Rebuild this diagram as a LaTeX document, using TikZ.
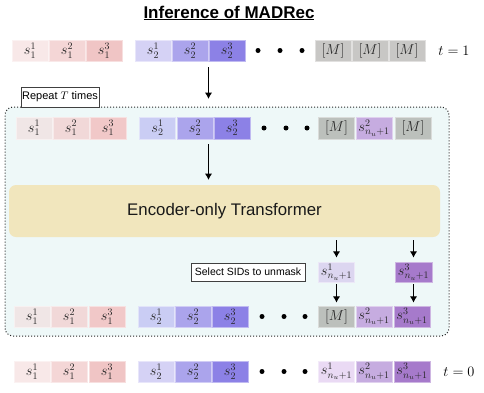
\documentclass[tikz,border=0pt]{standalone}
\usepackage{fontspec}
\setsansfont{Liberation Sans}
\usetikzlibrary{arrows.meta,calc}
\definecolor{ra}{HTML}{F8E8E8}
\definecolor{rb}{HTML}{F4D6D6}
\definecolor{rc}{HTML}{F0C5C5}
\definecolor{pa}{HTML}{D5D2F5}
\definecolor{pb}{HTML}{ABA4EC}
\definecolor{pc}{HTML}{8C81E6}
\definecolor{mg}{HTML}{C8C7C5}
\definecolor{mgb}{HTML}{BCC0BC}
\definecolor{ua}{HTML}{DCD6F0}
\definecolor{ub}{HTML}{C6ACE0}
\definecolor{uc}{HTML}{A67ACB}
\definecolor{va}{HTML}{EADAF4}
\definecolor{qa}{HTML}{F0E6E6}
\definecolor{qb}{HTML}{F1D8D8}
\definecolor{qc}{HTML}{F1C8C8}
\definecolor{qd}{HTML}{CACDF4}
\definecolor{bgc}{HTML}{EEF8F8}
\definecolor{beige}{HTML}{F1E6BD}
\begin{document}
\begin{tikzpicture}[x=1pt,y=-1pt,
  cell/.style={fill=#1,draw=#1!55!white,line width=0.5pt,minimum width=36pt,minimum height=21pt,inner sep=0pt,text=black!85,font=\fontsize{14.5}{16}\selectfont},
  dotn/.style={circle,fill=black,inner sep=0pt,minimum size=5pt},
  arr/.style={-{Latex[length=6.5pt,width=7.5pt]},line width=1.3pt},
  lab/.style={draw=black!75,fill=white,line width=0.6pt,inner sep=0pt,font=\sffamily\fontsize{10.5}{12}\selectfont},
  tlab/.style={font=\fontsize{13.5}{15}\selectfont}]
\useasboundingbox (0,0) rectangle (484,392);
% title
\node[font=\sffamily\bfseries\fontsize{17}{19}\selectfont] (title) at (229,13) {\underline{Inference of MADRec}};
% row 1 (t=1)
\node[cell=ra] (r1c1) at (30,50.5) {$s_1^1$};
\node[cell=rb] (r1c2) at (67,50.5) {$s_1^2$};
\node[cell=rc] (r1c3) at (104,50.5) {$s_1^3$};
\node[cell=pa] (r1c4) at (153,50.5) {$s_2^1$};
\node[cell=pb] (r1c5) at (190,50.5) {$s_2^2$};
\node[cell=pc] (r1c6) at (227,50.5) {$s_2^3$};
\node[dotn] (r1d1) at (258,50.5) {};
\node[dotn] (r1d2) at (280,50.5) {};
\node[dotn] (r1d3) at (302,50.5) {};
\node[cell=mg] (r1c7) at (333,50.5) {$[M]$};
\node[cell=mg] (r1c8) at (370,50.5) {$[M]$};
\node[cell=mg] (r1c9) at (407,50.5) {$[M]$};
\node[tlab] (t1) at (454,50.5) {$t=1$};
% container
\node[draw=black!85,dash pattern=on 1pt off 2pt,line width=1pt,rounded corners=8pt,fill=bgc,minimum width=444pt,minimum height=229pt,inner sep=0pt] (cont) at (227,221.5) {};
\node[lab,minimum width=78pt,minimum height=20pt,font=\sffamily\fontsize{11}{12}\selectfont] (rep) at (60,97) {Repeat $T$ times};
% row 2
\node[cell=qa,minimum height=22pt] (r2c1) at (34,128) {$s_1^1$};
\node[cell=qb,minimum height=22pt] (r2c2) at (71,128) {$s_1^2$};
\node[cell=qc,minimum height=22pt] (r2c3) at (108,128) {$s_1^3$};
\node[cell=qd,minimum height=22pt] (r2c4) at (157.5,128) {$s_2^1$};
\node[cell=pb,minimum height=22pt] (r2c5) at (195,128) {$s_2^2$};
\node[cell=pc,minimum height=22pt] (r2c6) at (232,128) {$s_2^3$};
\node[dotn] (r2d1) at (264,128) {};
\node[dotn] (r2d2) at (286,128) {};
\node[dotn] (r2d3) at (307,128) {};
\node[cell=mgb,minimum height=22pt] (r2c7) at (336.5,128) {$[M]$};
\node[cell=ub,minimum height=22pt] (r2c8) at (374,128) {$s_{n_u+1}^2$};
\node[cell=mgb,minimum height=22pt] (r2c9) at (413,128) {$[M]$};
% transformer
\node[fill=beige,rounded corners=7pt,minimum width=431pt,minimum height=52pt,inner sep=0pt,font=\sffamily\fontsize{16.8}{19}\selectfont,text=black!90] (enc) at (224.5,211) {Encoder-only Transformer};
% unmask row
\node[lab,minimum width=114pt,minimum height=18pt] (sel) at (248,272) {Select SIDs to unmask};
\node[cell=ua,minimum height=20pt] (m1) at (336.5,272) {$s_{n_u+1}^1$};
\node[cell=uc,minimum height=20pt,minimum width=37pt] (m3) at (413.5,272) {$s_{n_u+1}^3$};
% row 3
\node[cell=qa] (r3c1) at (32,316.5) {$s_1^1$};
\node[cell=qb] (r3c2) at (69,316.5) {$s_1^2$};
\node[cell=qc] (r3c3) at (107,316.5) {$s_1^3$};
\node[cell=qd] (r3c4) at (156,316.5) {$s_2^1$};
\node[cell=pb] (r3c5) at (193,316.5) {$s_2^2$};
\node[cell=pc] (r3c6) at (230,316.5) {$s_2^3$};
\node[dotn] (r3d1) at (262,316.5) {};
\node[dotn] (r3d2) at (284,316.5) {};
\node[dotn] (r3d3) at (305,316.5) {};
\node[cell=mgb] (r3c7) at (336.5,316.5) {$[M]$};
\node[cell=ub] (r3c8) at (374,316.5) {$s_{n_u+1}^2$};
\node[cell=uc] (r3c9) at (412,316.5) {$s_{n_u+1}^3$};
% row 4 (t=0)
\node[cell=ra] (r4c1) at (32,371.5) {$s_1^1$};
\node[cell=rb] (r4c2) at (69,371.5) {$s_1^2$};
\node[cell=rc] (r4c3) at (107,371.5) {$s_1^3$};
\node[cell=pa] (r4c4) at (156,371.5) {$s_2^1$};
\node[cell=pb] (r4c5) at (193,371.5) {$s_2^2$};
\node[cell=pc] (r4c6) at (230,371.5) {$s_2^3$};
\node[dotn] (r4d1) at (262,371.5) {};
\node[dotn] (r4d2) at (284,371.5) {};
\node[dotn] (r4d3) at (305,371.5) {};
\node[cell=va] (r4c7) at (336.5,371.5) {$s_{n_u+1}^1$};
\node[cell=ub] (r4c8) at (374,371.5) {$s_{n_u+1}^2$};
\node[cell=uc] (r4c9) at (412,371.5) {$s_{n_u+1}^3$};
\node[tlab] (t0) at (459,371.5) {$t=0$};
% arrows
\coordinate (a1s) at (208.5,67);
\coordinate (a1e) at (208.5,99);
\coordinate (a2s) at (208.5,144);
\coordinate (a2e) at (208.5,180);
\draw[arr] (a1s) -- (a1e);
\draw[arr] (a2s) -- (a2e);
\draw[arr,shorten <=3pt,shorten >=4pt] (enc.south -| m1.north) -- (m1.north);
\draw[arr,shorten <=3pt,shorten >=4pt] (enc.south -| m3.north) -- (m3.north);
\draw[arr,shorten <=2pt,shorten >=3pt] (m1.south) -- (r3c7.north);
\draw[arr,shorten <=2pt,shorten >=3pt] (m3.south) -- (m3.south |- r3c9.north);
\end{tikzpicture}
\end{document}
